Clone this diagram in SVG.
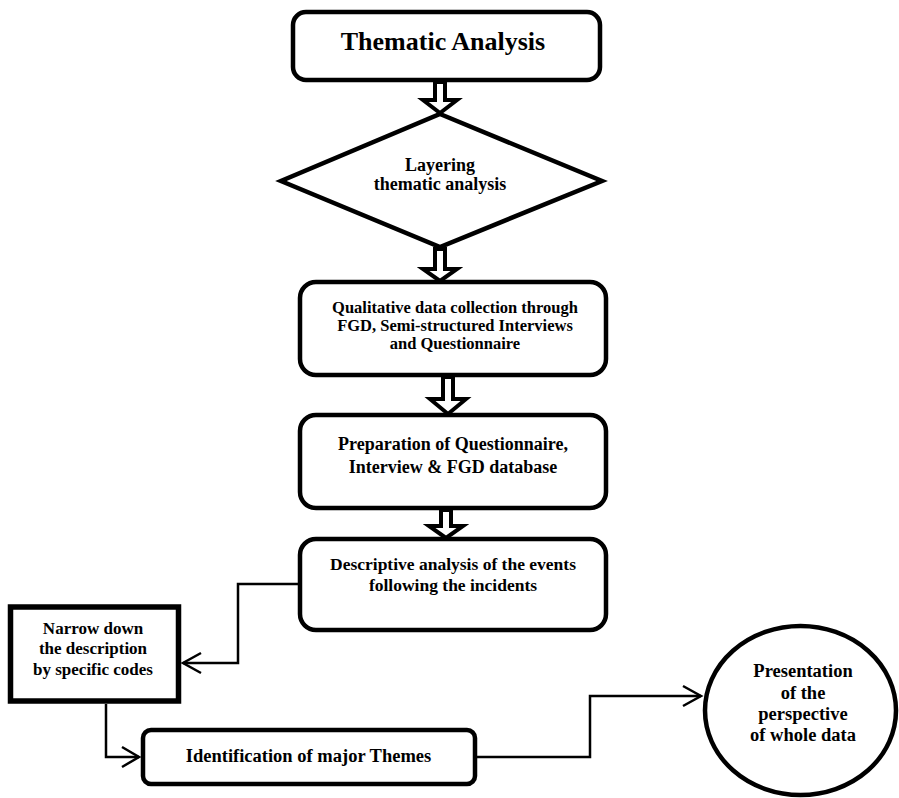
<svg xmlns="http://www.w3.org/2000/svg" width="899" height="798" viewBox="0 0 899 798">
<style>
.box{fill:#fff;stroke:#000;stroke-width:4.5}
.t{font-family:"Liberation Serif","Times New Roman",serif;font-weight:bold;fill:#000;text-anchor:middle}
.con{fill:none;stroke:#000;stroke-width:2.5}
.blk{fill:#fff;stroke:#000;stroke-width:4;stroke-linejoin:miter}
</style>
<rect width="899" height="798" fill="#fff"/>
<g id="n1">
<rect class="box" x="293" y="12" width="307" height="68" rx="13"/>
<text class="t" x="443" y="50" font-size="26">Thematic Analysis</text>
</g>
<g id="n2">
<polygon class="box" points="440,114 602,181 440,247 281,181"/>
<text class="t" x="440" y="171" font-size="18">Layering</text>
<text class="t" x="440" y="190" font-size="18">thematic analysis</text>
</g>
<g id="n3">
<rect class="box" x="300" y="282" width="306" height="93" rx="16"/>
<text class="t" x="455" y="312.5" font-size="16.5">Qualitative data collection through</text>
<text class="t" x="455" y="330.5" font-size="16.5">FGD, Semi-structured Interviews</text>
<text class="t" x="455" y="348.5" font-size="16.5">and Questionnaire</text>
</g>
<g id="n4">
<rect class="box" x="300" y="415" width="306" height="93" rx="16"/>
<text class="t" x="453" y="450" font-size="18">Preparation of Questionnaire,</text>
<text class="t" x="453" y="472.5" font-size="18">Interview &amp; FGD database</text>
</g>
<g id="n5">
<rect class="box" x="300" y="539" width="306" height="91" rx="16"/>
<text class="t" x="453" y="570" font-size="17.5">Descriptive analysis of the events</text>
<text class="t" x="453" y="590.5" font-size="17.5">following the incidents</text>
</g>
<g id="n6">
<rect x="10.5" y="607" width="168" height="94" fill="#fff" stroke="#000" stroke-width="5.5"/>
<text class="t" x="93" y="633.5" font-size="17">Narrow down</text>
<text class="t" x="93" y="654" font-size="17">the description</text>
<text class="t" x="93" y="674.5" font-size="17">by specific codes</text>
</g>
<g id="n7">
<rect class="box" x="143" y="730" width="332" height="54" rx="8"/>
<text class="t" x="308.5" y="762" font-size="18.5">Identification of major Themes</text>
</g>
<g id="n8">
<ellipse class="box" cx="800.5" cy="710.5" rx="95.5" ry="84.5"/>
<text class="t" x="803" y="677" font-size="18.5">Presentation</text>
<text class="t" x="803" y="698.5" font-size="18.5">of the</text>
<text class="t" x="803" y="719.5" font-size="18.5">perspective</text>
<text class="t" x="803" y="741" font-size="18.5">of whole data</text>
</g>
<g id="connectors">
<path class="blk" d="M435,82 V100 H423 L440,113 L457,100 H445 V82 Z"/>
<path class="blk" d="M435,249 V269 H423 L440,281 L457,269 H445 V249 Z"/>
<path class="blk" d="M443,377 V399 H430 L448,414 L466,399 H453 V377 Z"/>
<path class="blk" d="M441,510 V526 H429 L446,538 L463,526 H451 V510 Z"/>
<polyline class="con" points="298,584 238,584 238,663 183,663"/>
<polyline class="con" points="201,653 183,663 201,673"/>
<polyline class="con" points="106,704 106,757 139,757"/>
<polyline class="con" points="122,747 139,757 122,767"/>
<polyline class="con" points="477,757 590,757 590,696 701,696"/>
<polyline class="con" points="683,686 701,696 683,706"/>
</g>
</svg>
